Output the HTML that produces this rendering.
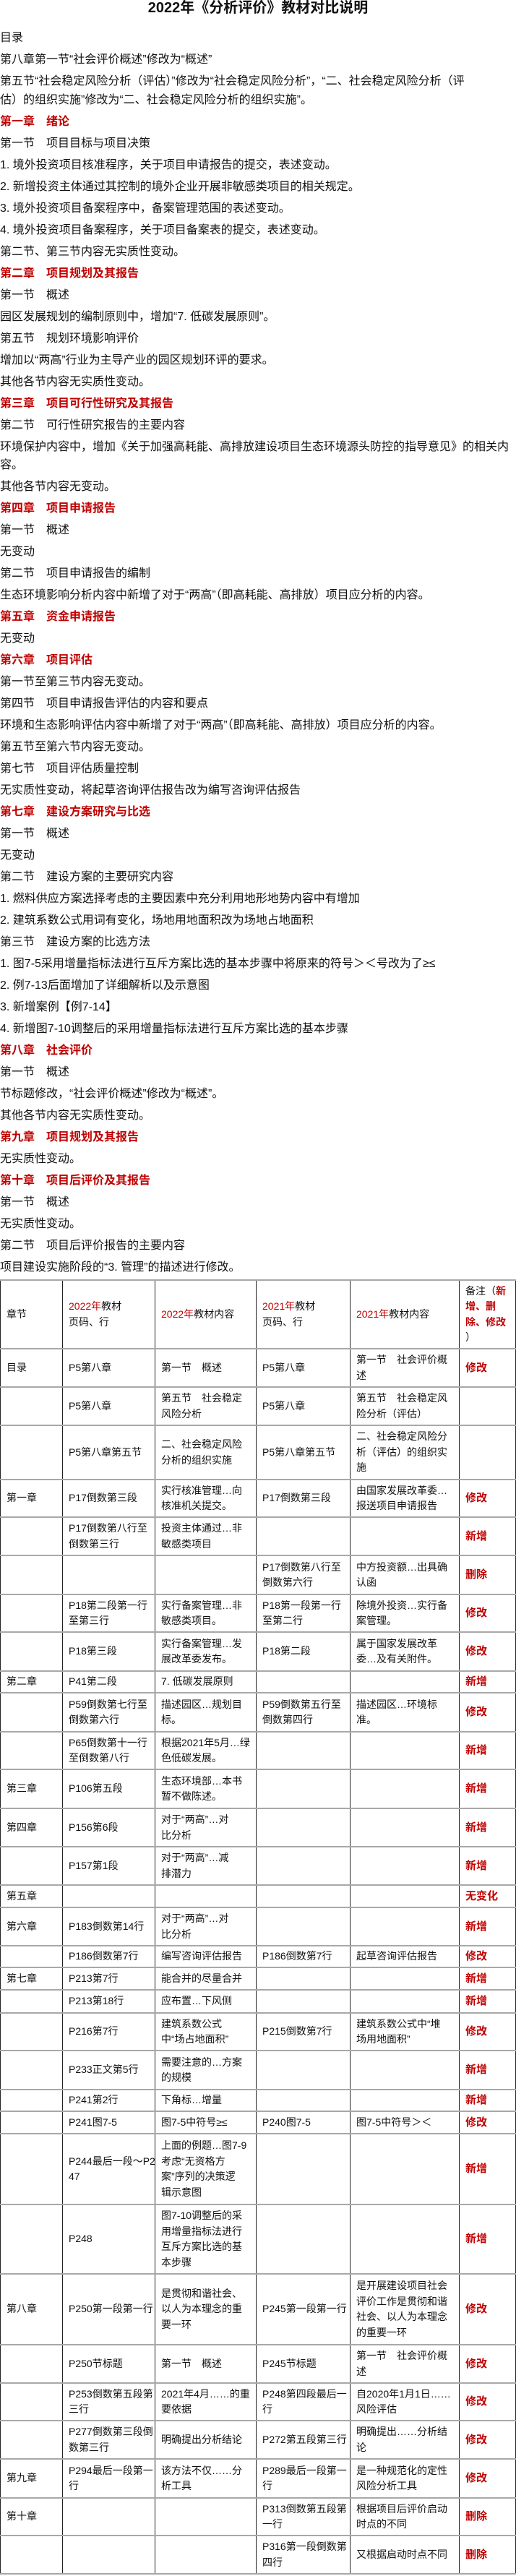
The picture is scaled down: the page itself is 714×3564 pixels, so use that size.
<!DOCTYPE html>
<html><head><meta charset="utf-8">
<style>
html,body{margin:0;padding:0;background:#fff;}
body{width:714px;height:3564px;position:relative;overflow:hidden;font-family:"Liberation Sans","Noto Sans CJK SC",sans-serif;color:#111;}
.txt{position:absolute;left:0;top:0;width:714px;}
.title{height:22px;line-height:22px;font-size:20px;font-weight:bold;text-align:center;margin:0 0 18.25px 0;white-space:nowrap;}
.txt p{margin:0 0 4.5px 0;font-size:16px;line-height:25.5px;white-space:nowrap;}
.txt p.h{color:#c00000;font-weight:bold;}
.tbl{position:absolute;left:0;top:1770px;width:714px;font-size:14px;line-height:21.5px;}
.r{display:flex;box-sizing:border-box;border-bottom:2px solid #a8a8a8;}
.r.first{border-top:2px solid #a8a8a8;}
.c{box-sizing:border-box;border-left:1px solid #222;padding:0 4px 0 8px;display:flex;align-items:center;white-space:nowrap;overflow:hidden;}
.c:last-child{border-right:1px solid #222;}
.w1{width:86px;}.w2{width:128px;}.w3{width:140px;}.w4{width:130px;}.w5{width:151px;}.w6{width:79px;}
.red{color:#c00000;}
.m{color:#c00000;font-weight:bold;font-size:15px;}
</style></head><body>
<div class="txt">
<div class="title">2022年《分析评价》教材对比说明</div>
<p>目录</p>
<p>第八章第一节“社会评价概述”修改为“概述”</p>
<p>第五节“社会稳定风险分析（评估）”修改为“社会稳定风险分析”，“二、社会稳定风险分析（评<br>估）的组织实施”修改为“二、社会稳定风险分析的组织实施”。</p>
<p class="h">第一章　绪论</p>
<p>第一节　项目目标与项目决策</p>
<p>1. 境外投资项目核准程序，关于项目申请报告的提交，表述变动。</p>
<p>2. 新增投资主体通过其控制的境外企业开展非敏感类项目的相关规定。</p>
<p>3. 境外投资项目备案程序中，备案管理范围的表述变动。</p>
<p>4. 境外投资项目备案程序，关于项目备案表的提交，表述变动。</p>
<p>第二节、第三节内容无实质性变动。</p>
<p class="h">第二章　项目规划及其报告</p>
<p>第一节　概述</p>
<p>园区发展规划的编制原则中，增加“7. 低碳发展原则”。</p>
<p>第五节　规划环境影响评价</p>
<p>增加以“两高”行业为主导产业的园区规划环评的要求。</p>
<p>其他各节内容无实质性变动。</p>
<p class="h">第三章　项目可行性研究及其报告</p>
<p>第二节　可行性研究报告的主要内容</p>
<p>环境保护内容中，增加《关于加强高耗能、高排放建设项目生态环境源头防控的指导意见》的相关内<br>容。</p>
<p>其他各节内容无变动。</p>
<p class="h">第四章　项目申请报告</p>
<p>第一节　概述</p>
<p>无变动</p>
<p>第二节　项目申请报告的编制</p>
<p>生态环境影响分析内容中新增了对于“两高”（即高耗能、高排放）项目应分析的内容。</p>
<p class="h">第五章　资金申请报告</p>
<p>无变动</p>
<p class="h">第六章　项目评估</p>
<p>第一节至第三节内容无变动。</p>
<p>第四节　项目申请报告评估的内容和要点</p>
<p>环境和生态影响评估内容中新增了对于“两高”（即高耗能、高排放）项目应分析的内容。</p>
<p>第五节至第六节内容无变动。</p>
<p>第七节　项目评估质量控制</p>
<p>无实质性变动，将起草咨询评估报告改为编写咨询评估报告</p>
<p class="h">第七章　建设方案研究与比选</p>
<p>第一节　概述</p>
<p>无变动</p>
<p>第二节　建设方案的主要研究内容</p>
<p>1. 燃料供应方案选择考虑的主要因素中充分利用地形地势内容中有增加</p>
<p>2. 建筑系数公式用词有变化，场地用地面积改为场地占地面积</p>
<p>第三节　建设方案的比选方法</p>
<p>1. 图7-5采用增量指标法进行互斥方案比选的基本步骤中将原来的符号＞＜号改为了≥≤</p>
<p>2. 例7-13后面增加了详细解析以及示意图</p>
<p>3. 新增案例【例7-14】</p>
<p>4. 新增图7-10调整后的采用增量指标法进行互斥方案比选的基本步骤</p>
<p class="h">第八章　社会评价</p>
<p>第一节　概述</p>
<p>节标题修改，“社会评价概述”修改为“概述”。</p>
<p>其他各节内容无实质性变动。</p>
<p class="h">第九章　项目规划及其报告</p>
<p>无实质性变动。</p>
<p class="h">第十章　项目后评价及其报告</p>
<p>第一节　概述</p>
<p>无实质性变动。</p>
<p>第二节　项目后评价报告的主要内容</p>
<p>项目建设实施阶段的“3. 管理”的描述进行修改。</p>
</div>

<div class="tbl">
<div class="r first" style="height:97px"><div class="c w1">章节</div><div class="c w2"><span><span class="red">2022年</span>教材<br>页码、行</span></div><div class="c w3"><span><span class="red">2022年</span>教材内容</span></div><div class="c w4"><span><span class="red">2021年</span>教材<br>页码、行</span></div><div class="c w5"><span><span class="red">2021年</span>教材内容</span></div><div class="c w6"><span>备注（<b class="red">新</b><br><b class="red">增、删<br>除、修改</b><br>）</span></div></div>
<div class="r" style="height:53px"><div class="c w1">目录</div><div class="c w2">P5第八章</div><div class="c w3">第一节　概述</div><div class="c w4">P5第八章</div><div class="c w5"><span>第一节　社会评价概<br>述</span></div><div class="c w6 m">修改</div></div>
<div class="r" style="height:53px"><div class="c w1"></div><div class="c w2">P5第八章</div><div class="c w3"><span>第五节　社会稳定<br>风险分析</span></div><div class="c w4">P5第八章</div><div class="c w5"><span>第五节　社会稳定风<br>险分析（评估）</span></div><div class="c w6 m"></div></div>
<div class="r" style="height:75px"><div class="c w1"></div><div class="c w2">P5第八章第五节</div><div class="c w3"><span>二、社会稳定风险<br>分析的组织实施</span></div><div class="c w4">P5第八章第五节</div><div class="c w5"><span>二、社会稳定风险分<br>析（评估）的组织实<br>施</span></div><div class="c w6 m"></div></div>
<div class="r" style="height:52px"><div class="c w1">第一章</div><div class="c w2">P17倒数第三段</div><div class="c w3"><span>实行核准管理…向<br>核准机关提交。</span></div><div class="c w4">P17倒数第三段</div><div class="c w5"><span>由国家发展改革委…<br>报送项目申请报告</span></div><div class="c w6 m">修改</div></div>
<div class="r" style="height:53px"><div class="c w1"></div><div class="c w2"><span>P17倒数第八行至<br>倒数第三行</span></div><div class="c w3"><span>投资主体通过…非<br>敏感类项目</span></div><div class="c w4"></div><div class="c w5"></div><div class="c w6 m">新增</div></div>
<div class="r" style="height:54px"><div class="c w1"></div><div class="c w2"></div><div class="c w3"></div><div class="c w4"><span>P17倒数第八行至<br>倒数第六行</span></div><div class="c w5"><span>中方投资额…出具确<br>认函</span></div><div class="c w6 m">删除</div></div>
<div class="r" style="height:52px"><div class="c w1"></div><div class="c w2"><span>P18第二段第一行<br>至第三行</span></div><div class="c w3"><span>实行备案管理…非<br>敏感类项目。</span></div><div class="c w4"><span>P18第一段第一行<br>至第二行</span></div><div class="c w5"><span>除境外投资…实行备<br>案管理。</span></div><div class="c w6 m">修改</div></div>
<div class="r" style="height:54px"><div class="c w1"></div><div class="c w2">P18第三段</div><div class="c w3"><span>实行备案管理…发<br>展改革委发布。</span></div><div class="c w4">P18第二段</div><div class="c w5"><span>属于国家发展改革<br>委…及有关附件。</span></div><div class="c w6 m">修改</div></div>
<div class="r" style="height:30px"><div class="c w1">第二章</div><div class="c w2">P41第二段</div><div class="c w3">7. 低碳发展原则</div><div class="c w4"></div><div class="c w5"></div><div class="c w6 m">新增</div></div>
<div class="r" style="height:54px"><div class="c w1"></div><div class="c w2"><span>P59倒数第七行至<br>倒数第六行</span></div><div class="c w3"><span>描述园区…规划目<br>标。</span></div><div class="c w4"><span>P59倒数第五行至<br>倒数第四行</span></div><div class="c w5"><span>描述园区…环境标<br>准。</span></div><div class="c w6 m">修改</div></div>
<div class="r" style="height:52px"><div class="c w1"></div><div class="c w2"><span>P65倒数第十一行<br>至倒数第八行</span></div><div class="c w3"><span>根据2021年5月…绿<br>色低碳发展。</span></div><div class="c w4"></div><div class="c w5"></div><div class="c w6 m">新增</div></div>
<div class="r" style="height:54px"><div class="c w1">第三章</div><div class="c w2">P106第五段</div><div class="c w3"><span>生态环境部…本书<br>暂不做陈述。</span></div><div class="c w4"></div><div class="c w5"></div><div class="c w6 m">新增</div></div>
<div class="r" style="height:53px"><div class="c w1">第四章</div><div class="c w2">P156第6段</div><div class="c w3"><span>对于“两高”…对<br>比分析</span></div><div class="c w4"></div><div class="c w5"></div><div class="c w6 m">新增</div></div>
<div class="r" style="height:53px"><div class="c w1"></div><div class="c w2">P157第1段</div><div class="c w3"><span>对于“两高”…减<br>排潜力</span></div><div class="c w4"></div><div class="c w5"></div><div class="c w6 m">新增</div></div>
<div class="r" style="height:31px"><div class="c w1">第五章</div><div class="c w2"></div><div class="c w3"></div><div class="c w4"></div><div class="c w5"></div><div class="c w6 m">无变化</div></div>
<div class="r" style="height:53px"><div class="c w1">第六章</div><div class="c w2">P183倒数第14行</div><div class="c w3"><span>对于“两高”…对<br>比分析</span></div><div class="c w4"></div><div class="c w5"></div><div class="c w6 m">新增</div></div>
<div class="r" style="height:30px"><div class="c w1"></div><div class="c w2">P186倒数第7行</div><div class="c w3">编写咨询评估报告</div><div class="c w4">P186倒数第7行</div><div class="c w5">起草咨询评估报告</div><div class="c w6 m">修改</div></div>
<div class="r" style="height:31px"><div class="c w1">第七章</div><div class="c w2">P213第7行</div><div class="c w3">能合并的尽量合并</div><div class="c w4"></div><div class="c w5"></div><div class="c w6 m">新增</div></div>
<div class="r" style="height:32px"><div class="c w1"></div><div class="c w2">P213第18行</div><div class="c w3">应布置…下风侧</div><div class="c w4"></div><div class="c w5"></div><div class="c w6 m">新增</div></div>
<div class="r" style="height:52px"><div class="c w1"></div><div class="c w2">P216第7行</div><div class="c w3"><span>建筑系数公式<br>中“场占地面积”</span></div><div class="c w4">P215倒数第7行</div><div class="c w5"><span>建筑系数公式中“堆<br>场用地面积”</span></div><div class="c w6 m">修改</div></div>
<div class="r" style="height:54px"><div class="c w1"></div><div class="c w2">P233正文第5行</div><div class="c w3"><span>需要注意的…方案<br>的规模</span></div><div class="c w4"></div><div class="c w5"></div><div class="c w6 m">新增</div></div>
<div class="r" style="height:30px"><div class="c w1"></div><div class="c w2">P241第2行</div><div class="c w3">下角标…增量</div><div class="c w4"></div><div class="c w5"></div><div class="c w6 m">新增</div></div>
<div class="r" style="height:31px"><div class="c w1"></div><div class="c w2">P241图7-5</div><div class="c w3">图7-5中符号≥≤</div><div class="c w4">P240图7-5</div><div class="c w5">图7-5中符号＞＜</div><div class="c w6 m">修改</div></div>
<div class="r" style="height:98px"><div class="c w1"></div><div class="c w2"><span>P244最后一段～P2<br>47</span></div><div class="c w3"><span>上面的例题…图7-9<br>考虑“无资格方<br>案”序列的决策逻<br>辑示意图</span></div><div class="c w4"></div><div class="c w5"></div><div class="c w6 m">新增</div></div>
<div class="r" style="height:96px"><div class="c w1"></div><div class="c w2">P248</div><div class="c w3"><span>图7-10调整后的采<br>用增量指标法进行<br>互斥方案比选的基<br>本步骤</span></div><div class="c w4"></div><div class="c w5"></div><div class="c w6 m">新增</div></div>
<div class="r" style="height:98px"><div class="c w1">第八章</div><div class="c w2">P250第一段第一行</div><div class="c w3"><span>是贯彻和谐社会、<br>以人为本理念的重<br>要一环</span></div><div class="c w4">P245第一段第一行</div><div class="c w5"><span>是开展建设项目社会<br>评价工作是贯彻和谐<br>社会、以人为本理念<br>的重要一环</span></div><div class="c w6 m">修改</div></div>
<div class="r" style="height:53px"><div class="c w1"></div><div class="c w2">P250节标题</div><div class="c w3">第一节　概述</div><div class="c w4">P245节标题</div><div class="c w5"><span>第一节　社会评价概<br>述</span></div><div class="c w6 m">修改</div></div>
<div class="r" style="height:52px"><div class="c w1"></div><div class="c w2"><span>P253倒数第五段第<br>三行</span></div><div class="c w3"><span>2021年4月……的重<br>要依据</span></div><div class="c w4"><span>P248第四段最后一<br>行</span></div><div class="c w5"><span>自2020年1月1日……<br>风险评估</span></div><div class="c w6 m">修改</div></div>
<div class="r" style="height:53px"><div class="c w1"></div><div class="c w2"><span>P277倒数第三段倒<br>数第三行</span></div><div class="c w3">明确提出分析结论</div><div class="c w4">P272第五段第三行</div><div class="c w5"><span>明确提出……分析结<br>论</span></div><div class="c w6 m">修改</div></div>
<div class="r" style="height:54px"><div class="c w1">第九章</div><div class="c w2"><span>P294最后一段第一<br>行</span></div><div class="c w3"><span>该方法不仅……分<br>析工具</span></div><div class="c w4"><span>P289最后一段第一<br>行</span></div><div class="c w5"><span>是一种规范化的定性<br>风险分析工具</span></div><div class="c w6 m">修改</div></div>
<div class="r" style="height:52px"><div class="c w1">第十章</div><div class="c w2"></div><div class="c w3"></div><div class="c w4"><span>P313倒数第五段第<br>一行</span></div><div class="c w5"><span>根据项目后评价启动<br>时点的不同</span></div><div class="c w6 m">删除</div></div>
<div class="r" style="height:53px"><div class="c w1"></div><div class="c w2"></div><div class="c w3"></div><div class="c w4"><span>P316第一段倒数第<br>四行</span></div><div class="c w5">又根据启动时点不同</div><div class="c w6 m">删除</div></div>
</div>
</body></html>
